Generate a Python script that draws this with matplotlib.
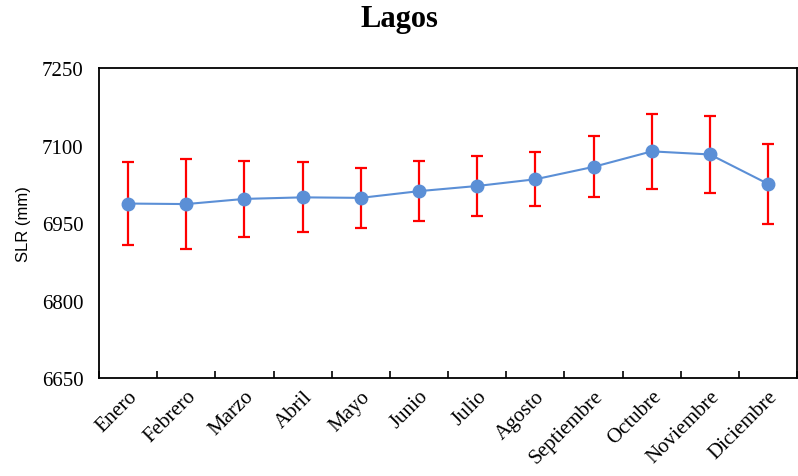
import numpy as np
import matplotlib.pyplot as plt

# Datos mensuales de SLR para Lagos
meses = ['Enero', 'Febrero', 'Marzo', 'Abril', 'Mayo', 'Junio', 'Julio',
         'Agosto', 'Septiembre', 'Octubre', 'Noviembre', 'Diciembre']
slr = [6988, 6987, 6997, 7000, 6999, 7012, 7022, 7035, 7059, 7089, 7083, 7026]
err = [80, 87, 73, 68, 58, 58, 58, 52, 59, 72, 74, 78]

x = np.arange(len(meses))

fig = plt.figure(figsize=(7.98, 4.77), dpi=100)
ax = fig.add_axes([0.124, 0.205, 0.875, 0.650])

ax.errorbar(x, slr, yerr=err, fmt='-o', color='#5B8FD6', markersize=9,
            linewidth=1.5, ecolor='#FF0000', elinewidth=1.6, capsize=4.5,
            capthick=1.6, zorder=3)

ax.set_xlim(-0.5, len(meses) - 0.5)
ax.set_ylim(6650, 7250)
ax.set_yticks([6650, 6800, 6950, 7100, 7250])

# marcas en los límites de cada categoría, etiquetas al centro
ax.set_xticks(np.arange(len(meses) + 1) - 0.5)
ax.set_xticklabels([])
ax.tick_params(axis='x', which='major', direction='in', length=5, width=1.2)
ax.set_xticks(x, minor=True)
ax.set_xticklabels(meses, minor=True, rotation=45, ha='right',
                   rotation_mode='anchor', family='Liberation Serif', fontsize=15)
ax.tick_params(axis='x', which='minor', length=0, pad=6)
ax.tick_params(axis='y', length=0, pad=11)
for lab in ax.get_yticklabels():
    lab.set_family('Liberation Serif')
    lab.set_fontsize(15)

for s in ax.spines.values():
    s.set_linewidth(1.3)

ax.set_ylabel('SLR (mm)', family='Liberation Sans', fontsize=12, labelpad=8)
fig.suptitle('Lagos', family='Liberation Serif', fontweight='bold',
             fontsize=22, y=0.99)

fig.savefig('out.png', dpi=100)
